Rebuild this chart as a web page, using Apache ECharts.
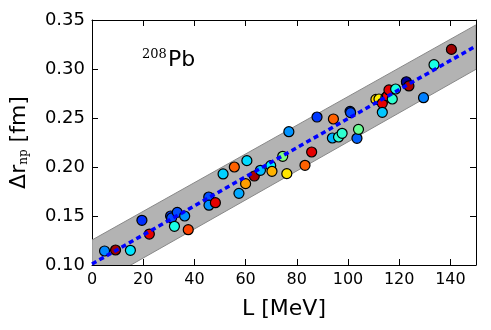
<!DOCTYPE html>
<html>
<head>
<meta charset="utf-8">
<script src="https://cdn.jsdelivr.net/npm/echarts@6/dist/echarts.min.js"></script>
<style>
  html, body { margin: 0; padding: 0; background: #fff; }
  #main { width: 491px; height: 330px; }
</style>
</head>
<body>
<div id="main"></div>
<script>
// symmetry energy slope L (MeV) of each model
var L = [4.9, 9.2, 15.0, 19.5, 22.4, 30.7, 31.1, 33.3, 32.2, 36.2,
         37.6, 45.6, 45.7, 48.2, 51.2, 55.6, 57.4, 60.0, 60.5, 63.4,
         65.8, 69.8, 70.3, 74.5, 76.1, 76.9, 83.2, 85.8, 87.9, 94.3,
         93.9, 96.3, 97.7, 100.8, 101.0, 103.5, 104.1, 110.9, 112.1, 114.8,
         113.4, 113.4, 115.4, 116.0, 117.3, 118.6, 123.0, 122.8, 123.8, 129.5,
         133.6, 140.4];
// neutron skin thickness of 208Pb (fm)
var dr = [0.1143, 0.1153, 0.1150, 0.1456, 0.1316, 0.1500, 0.1480, 0.1537, 0.1395, 0.1500,
          0.1360, 0.1694, 0.1610, 0.1636, 0.1929, 0.2000, 0.1731, 0.1830, 0.2065, 0.1908,
          0.1966, 0.2014, 0.1956, 0.2109, 0.1932, 0.2360, 0.2017, 0.2153, 0.2510, 0.2490,
          0.2296, 0.2306, 0.2344, 0.2568, 0.2555, 0.2293, 0.2384, 0.2690, 0.2694, 0.2710,
          0.2650, 0.2558, 0.2725, 0.2786, 0.2694, 0.2796, 0.2855, 0.2870, 0.2827, 0.2707,
          0.3044, 0.3200];
// colour value (jet colormap, 0..1)
var cval = [0.26, 0.97, 0.35, 0.17, 0.90, 0.18, 0.20, 0.20, 0.40, 0.27,
            0.81, 0.20, 0.27, 0.90, 0.33, 0.78, 0.29, 0.72, 0.34, 0.96,
            0.31, 0.36, 0.70, 0.50, 0.65, 0.27, 0.78, 0.90, 0.18, 0.78,
            0.30, 0.42, 0.42, 0.18, 0.20, 0.22, 0.48, 0.66, 0.64, 0.22,
            0.90, 0.32, 0.88, 0.90, 0.42, 0.40, 0.17, 0.03, 0.96, 0.25,
            0.40, 0.97];

// linear fit and its band
var fitL = [0, 150];
var fitDr = [0.101, 0.3235];
var bandLow = [0.0775, 0.2997];
var bandHigh = [0.1255, 0.3450];

var pts = L.map(function (x, i) { return [x, dr[i], cval[i]]; });
var fitData = fitL.map(function (x, i) { return [x, fitDr[i]]; });

var chart = echarts.init(document.getElementById('main'));
var font = 'DejaVu Sans';

function axisX(pos) {
  return {
    type: 'value', position: pos, min: 0, max: 150, interval: 20,
    axisLine: { show: true, onZero: false, lineStyle: { color: '#000', width: 1 } },
    axisTick: { show: true, inside: true, length: 6, lineStyle: { color: '#000' } },
    axisLabel: { show: pos === 'bottom', color: '#000', fontFamily: font, fontSize: 16, margin: 7,
      showMaxLabel: false },
    splitLine: { show: false }
  };
}
function axisY(pos) {
  return {
    type: 'value', position: pos, min: 0.10, max: 0.35, interval: 0.05,
    axisLine: { show: true, onZero: false, lineStyle: { color: '#000', width: 1 } },
    axisTick: { show: true, inside: true, length: 6, lineStyle: { color: '#000' } },
    axisLabel: { show: pos === 'left', color: '#000', fontFamily: font, fontSize: 18, margin: 7,
      formatter: function (v) { return v.toFixed(2); } },
    splitLine: { show: false }
  };
}

var xb = axisX('bottom');
xb.name = 'L [MeV]';
xb.nameLocation = 'middle';
xb.nameGap = 33;
xb.nameTextStyle = { color: '#000', fontFamily: font, fontSize: 22 };
var yl = axisY('left');
yl.name = '{a|Δr}{b|np}{a| [fm]}';
yl.nameLocation = 'middle';
yl.nameGap = 62;
yl.nameRotate = 90;
yl.nameTextStyle = {
  rich: {
    a: { color: '#000', fontFamily: font, fontSize: 22 },
    b: { color: '#000', fontFamily: 'DejaVu Serif', fontSize: 12, verticalAlign: 'bottom' }
  }
};

var option = {
  animation: false,
  backgroundColor: '#fff',
  grid: { left: 89, right: 15, top: 20, bottom: 65 },
  xAxis: [xb, axisX('top')],
  yAxis: [yl, axisY('right')],
  visualMap: {
    show: false, type: 'continuous', seriesIndex: 2, dimension: 2, min: 0, max: 1,
    inRange: { color: ['#00007f', '#0000ff', '#007fff', '#00ffff', '#7fff7f',
                       '#ffff00', '#ff7f00', '#ff0000', '#7f0000'] }
  },
  graphic: [
    { type: 'text', left: 142, top: 48, z: 10,
      style: { text: '208', fontFamily: 'DejaVu Serif', fontSize: 13, fill: '#000' } },
    { type: 'text', left: 168, top: 49, z: 10,
      style: { text: 'Pb', fontFamily: font, fontSize: 22, fill: '#000' } }
  ],
  series: [
    {
      type: 'custom', z: 1, clip: true, silent: true,
      data: [0],
      renderItem: function (params, api) {
        var p = [];
        for (var i = 0; i < fitL.length; i++) p.push(api.coord([fitL[i], bandHigh[i]]));
        for (var j = fitL.length - 1; j >= 0; j--) p.push(api.coord([fitL[j], bandLow[j]]));
        return {
          type: 'polygon',
          shape: { points: p },
          style: { fill: '#b3b3b3', stroke: '#888888', lineWidth: 1 }
        };
      }
    },
    {
      type: 'line', z: 4, data: fitData, symbol: 'none', silent: true,
      lineStyle: { color: '#0000ff', width: 3.5, type: [5, 3.5], cap: 'butt' }
    },
    {
      type: 'scatter', z: 3, data: pts, symbol: 'circle', symbolSize: 10,
      itemStyle: { borderColor: '#000', borderWidth: 1.2, opacity: 1 }
    }
  ]
};
chart.setOption(option);
</script>
</body>
</html>
